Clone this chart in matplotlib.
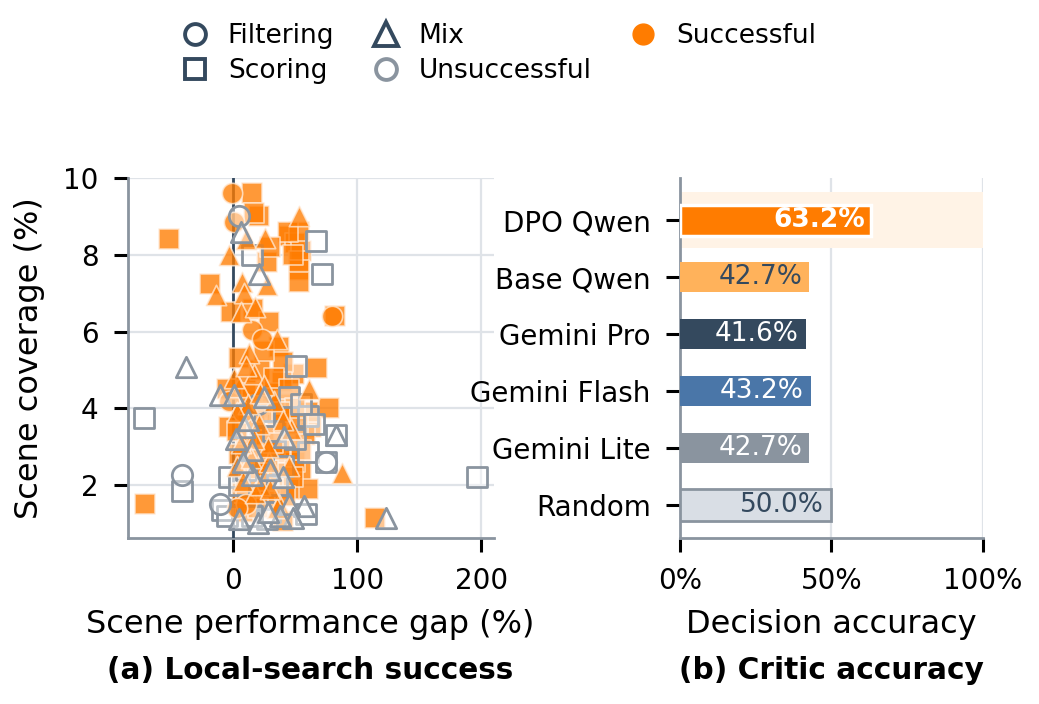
import matplotlib
matplotlib.use("Agg")
import matplotlib.pyplot as plt
from matplotlib.lines import Line2D
import numpy as np

# ---------------- data ----------------
# Panel (a): scene performance gap (%) vs scene coverage (%)
filt_succ_x = [-1, 1, 80, 15, 23, 10, -3, 8, 3]
filt_succ_y = [9.6, 8.85, 6.4, 6.05, 5.8, 1.5, 4.2, 3.9, 1.4]
filt_fail_x = [5, -41, -11, 75, 20]
filt_fail_y = [9.0, 2.25, 1.5, 2.6, 4.1]

score_succ_x = [15, 21, 17, -52, 45, 50, 53, 55, 53, 53, 53, 27, -19, -2, 16, 82, 29, 37,
                68, 49, 39, -5, 77, -3, 63, 43, 55, 60, -71, 40, 114,
                20, 30, 40, 35, 25, 45, 10, 20, 35, 15, 25, 45, 10, 30, 22, 40, 12, 5,
                50, 30, 8, 20, 60, 58,
                5, 25, 33, 45, 52, 18, 28, 38, 48, 12, 3, 7, 27, 42, 55, 50, 15, 38, 23,
                32, 20, 10, 48, 44, 30]
score_succ_y = [9.6, 9.0, 9.1, 8.4, 8.5, 8.3, 8.6, 8.1, 7.85, 7.6, 7.3, 7.8, 7.25, 6.5, 6.6,
                6.4, 6.25, 5.6, 5.05, 4.9, 4.7, 4.5, 4.0, 3.5, 3.5, 2.85, 2.4, 1.9, 1.5,
                1.05, 1.15,
                4.2, 4.0, 4.1, 3.6, 3.3, 3.0, 3.0, 2.7, 2.3, 2.0, 1.8, 1.9, 4.6, 4.4, 5.0,
                5.2, 3.9, 2.8, 2.6, 1.6, 1.3, 1.4, 3.9, 3.3,
                5.3, 5.5, 4.8, 4.5, 3.6, 3.7, 2.4, 2.9, 2.2, 2.4, 3.4, 1.8, 2.1, 1.7, 2.9,
                4.0, 4.4, 3.9, 3.9, 3.1, 2.3, 1.9, 8.0, 8.6, 8.2]
score_fail_x = [67, 72, 15, 51, -72, 60, 75, 83, -41, 197, -9, 59, -3, 27, 45, 60, 5, 30,
                40, 55, 15, -5, 32, 10, 35, 50, 25, 65]
score_fail_y = [8.35, 7.5, 8.0, 5.1, 3.75, 2.85, 2.6, 3.3, 1.85, 2.2, 1.35, 1.25, 2.2, 1.1,
                4.3, 3.8, 2.0, 1.3, 2.5, 4.1, 1.2, 1.2, 3.4, 2.4, 2.0, 3.2, 3.8, 3.6]

mix_succ_x = [53, 10, 26, -3, 27, 7, -14, 9, 6, 18, 35, 13, 17, 61, 5, 21, 47, 29, 3, 88,
              18, 37, 12, 28, 8, 22, 35, 17, 33, 3, 1, 25, 40, 14, 30, 6, 45, 22, 10]
mix_succ_y = [9.0, 8.4, 8.45, 8.0, 7.2, 7.3, 6.95, 7.0, 6.5, 6.65, 5.8, 5.45, 4.9, 4.5,
              4.55, 3.6, 3.45, 2.6, 2.5, 2.3, 1.8, 1.5, 4.1, 3.0, 2.1, 2.0, 1.4, 3.2, 4.2,
              3.9, 4.8, 4.6, 3.7, 2.7, 1.9, 3.1, 2.5, 4.4, 5.1]
mix_fail_x = [6, 21, -38, -11, 1, 25, 9, 41, 83, 15, 15, 40, 57, 45, 5, 48, 123, 2, 12,
              20, 38, 30, 8, 28]
mix_fail_y = [8.6, 7.5, 5.08, 4.35, 4.35, 4.3, 3.5, 3.25, 3.3, 2.9, 2.25, 2.2, 1.45, 1.5,
              1.1, 1.15, 1.15, 3.2, 3.7, 1.0, 1.2, 2.4, 2.6, 1.3]

# Panel (b): critic decision accuracy
critics = ["DPO Qwen", "Base Qwen", "Gemini Pro", "Gemini Flash", "Gemini Lite", "Random"]
accuracy = [63.2, 42.7, 41.6, 43.2, 42.7, 50.0]

# ---------------- style ----------------
ORANGE = "#ff7c00"
DARK = "#34495e"
GRAY = "#8a949f"
GRID = "#dfe3e8"
bar_colors = [ORANGE, "#ffb25b", DARK, "#4a76a8", GRAY, "#d9dee5"]
text_colors = ["white", DARK, "white", "white", "white", DARK]

plt.rcParams["font.family"] = "DejaVu Sans"

fig = plt.figure(figsize=(10.39, 7.04), dpi=100)
ax1 = fig.add_axes([0.123, 0.236, 0.352, 0.511])
ax2 = fig.add_axes([0.6545, 0.236, 0.2915, 0.511])

for ax in (ax1, ax2):
    for s in ("top", "right"):
        ax.spines[s].set_visible(False)
    for s in ("left", "bottom"):
        ax.spines[s].set_color(GRAY)
        ax.spines[s].set_linewidth(2)
    ax.tick_params(axis="both", which="major", length=10, width=2.2, color="black",
                   labelsize=20, pad=11)
    ax.set_axisbelow(True)

# ---- panel (a) ----
ax1.grid(True, color=GRID, linewidth=1.6)
ax1.axvline(0, color=DARK, linewidth=2, zorder=3)
MS = 215
succ_kw = dict(s=MS, facecolor=ORANGE, alpha=0.78, edgecolor="#ffe9d4", linewidth=1.2, zorder=4)
fail_kw = dict(s=MS, facecolor=(1, 1, 1, 0.45), edgecolor=GRAY, linewidth=2, zorder=4)

ax1.scatter(score_succ_x, score_succ_y, marker="s", **succ_kw)
ax1.scatter(score_fail_x, score_fail_y, marker="s", **fail_kw)
ax1.scatter(filt_succ_x, filt_succ_y, marker="o", **succ_kw)
ax1.scatter(filt_fail_x, filt_fail_y, marker="o", **fail_kw)
ax1.scatter(mix_succ_x, mix_succ_y, marker="^", **succ_kw)
ax1.scatter(mix_fail_x, mix_fail_y, marker="^", **fail_kw)

ax1.set_xlim(-85, 210)
ax1.set_ylim(0.62, 10.0)
ax1.set_xticks([0, 100, 200])
ax1.set_yticks([2, 4, 6, 8, 10])
ax1.set_xlabel("Scene performance gap (%)", fontsize=23)
ax1.xaxis.set_label_coords(0.5, -0.242)
ax1.xaxis.label.set_va("center")
ax1.set_ylabel("Scene coverage (%)", fontsize=23)
ax1.yaxis.set_label_coords(-0.27, 0.5)
ax1.yaxis.label.set_va("center")

# ---- panel (b) ----
ypos = np.arange(len(critics))
ax2.grid(True, axis="x", color=GRID, linewidth=1.6)
ax2.barh(0, 100, height=0.98, color="#fff3e6", zorder=1)
for i, (v, c, tc) in enumerate(zip(accuracy, bar_colors, text_colors)):
    if i == 0:
        ax2.barh(i, v, height=0.54, color=c, edgecolor="white", linewidth=2.5, zorder=3)
        ax2.text(v - 2.2, i, f"{v:.1f}%", ha="right", va="center", color=tc,
                 fontsize=19, fontweight="bold", zorder=4)
    elif critics[i] == "Random":
        ax2.barh(i, v, height=0.56, color=c, edgecolor=GRAY, linewidth=2, zorder=3)
        ax2.text(v - 2.5, i, f"{v:.1f}%", ha="right", va="center", color=tc,
                 fontsize=19, zorder=4)
    else:
        ax2.barh(i, v, height=0.53, color=c, zorder=3)
        ax2.text(v - 2.3, i, f"{v:.1f}%", ha="right", va="center", color=tc,
                 fontsize=19, zorder=4)

ax2.set_yticks(ypos)
ax2.set_yticklabels(critics)
ax2.set_ylim(5.58, -0.74)
ax2.set_xlim(0, 100)
ax2.set_xticks([0, 50, 100])
ax2.set_xticklabels(["0%", "50%", "100%"])
ax2.set_xlabel("Decision accuracy", fontsize=23)
ax2.xaxis.set_label_coords(0.5, -0.242)
ax2.xaxis.label.set_va("center")

# subtitles
fig.text(0.2985, 0.048, "(a) Local-search success", ha="center", va="center",
         fontsize=21.3, fontweight="bold")
fig.text(0.80, 0.048, "(b) Critic accuracy", ha="center", va="center",
         fontsize=21.3, fontweight="bold")

# legend
handles = [
    Line2D([], [], linestyle="none", marker="o", markersize=15, markerfacecolor="none",
           markeredgecolor=DARK, markeredgewidth=2.8),
    Line2D([], [], linestyle="none", marker="s", markersize=15, markerfacecolor="none",
           markeredgecolor=DARK, markeredgewidth=2.8),
    Line2D([], [], linestyle="none", marker="^", markersize=17, markerfacecolor="none",
           markeredgecolor=DARK, markeredgewidth=2.8),
    Line2D([], [], linestyle="none", marker="o", markersize=15, markerfacecolor="none",
           markeredgecolor=GRAY, markeredgewidth=2.8),
    Line2D([], [], linestyle="none", marker="o", markersize=15, markerfacecolor=ORANGE,
           markeredgecolor=ORANGE),
    Line2D([], [], linestyle="none", marker=None),
]
labels = ["Filtering", "Scoring", "Mix", "Unsuccessful", "Successful", ""]
fig.legend(handles, labels, loc="center", bbox_to_anchor=(0.477, 0.924), ncol=3,
           frameon=False, fontsize=19, handlelength=1.5, handletextpad=0.5,
           columnspacing=1.2, labelspacing=0.35)

fig.savefig("out.png", dpi=100)
